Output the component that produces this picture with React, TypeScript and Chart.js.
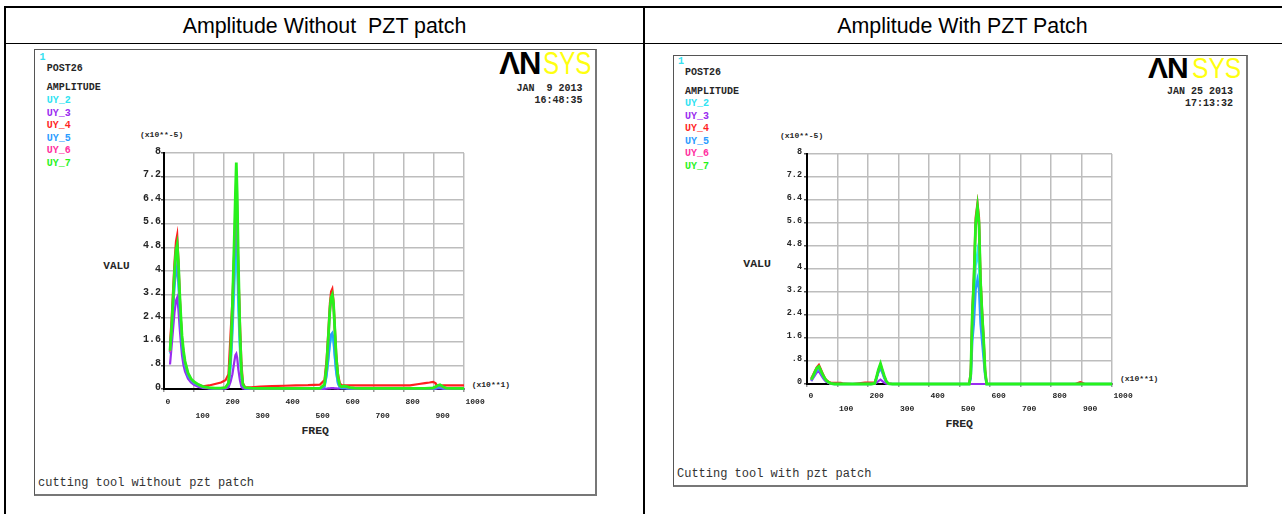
import React, { useEffect, useRef } from 'react';
import { Chart, registerables } from 'chart.js';

Chart.register(...registerables);

// ---------- data ----------
const SERIES_NAMES = ['UY_2', 'UY_3', 'UY_4', 'UY_5', 'UY_6', 'UY_7'];
const SERIES_COLORS = ['#2fe3f2', '#9a2cf0', '#ff1f1f', '#2b9cff', '#ff2f9f', '#27f21b'];
const SERIES_WIDTHS = [2.2, 2.2, 2.2, 2.4, 2.2, 2.8];
const X_TICK_LABELS = ['0', '100', '200', '300', '400', '500', '600', '700', '800', '900', '1000'];
const Y_TICK_LABELS = ['0', '.8', '1.6', '2.4', '3.2', '4', '4.8', '5.6', '6.4', '7.2', '8'];

// Left panel: without PZT patch  (FREQ x10**1, VALU x10**-5)
const LEFT_FREQ = [
  20, 25, 30, 35, 40, 44, 48, 52, 56, 60,
  65, 70, 80, 90, 100, 115, 130, 150, 170, 190,
  205, 215, 222, 228, 234, 238, 241, 244, 248, 253,
  258, 263, 270, 290, 320, 360, 400, 440, 480, 520,
  535, 542, 548, 553, 557, 561, 565, 569, 574, 580,
  586, 592, 600, 610, 620, 635, 660, 700, 760, 820,
  850, 870, 885, 897, 905, 912, 920, 930, 940, 960, 1000,
];
const LEFT_UY2 = [
  1.2, 1.85, 2.75, 3.6, 4.2, 4.4, 3.8, 2.9, 2.2, 1.55,
  1.1, 0.8, 0.45, 0.3, 0.2, 0.12, 0.06, 0.03, 0.02, 0.02,
  0.04, 0.12, 0.7, 1.8, 3.3, 4.3, 4.7, 4.1, 2.6, 1.3,
  0.4, 0.08, 0.02, 0.01, 0.01, 0.01, 0.01, 0.01, 0.01, 0.01,
  0.07, 0.45, 1.0, 1.5, 1.7, 1.75, 1.6, 1.1, 0.55, 0.18,
  0.05, 0.03, 0.04, 0.02, 0.01, 0.01, 0.01, 0.01, 0.01, 0.01,
  0.01, 0.01, 0.01, 0.01, 0.02, 0.04, 0.05, 0.02, 0.01, 0.01, 0.01,
];
const LEFT_UY3 = [
  0.83, 1.4, 2.0, 2.6, 3.0, 3.1, 2.7, 2.1, 1.6, 1.15,
  0.8, 0.6, 0.35, 0.22, 0.14, 0.07, 0.04, 0.02, 0.01, 0.01,
  0.01, 0.05, 0.25, 0.5, 0.9, 1.15, 1.2, 1.05, 0.65, 0.3,
  0.08, 0.02, 0.01, 0, 0, 0, 0, 0, 0, 0,
  0, 0.01, 0.02, 0.02, 0.03, 0.03, 0.03, 0.02, 0.02, 0.01,
  0.02, 0.03, 0.03, 0.02, 0.01, 0, 0, 0, 0, 0,
  0, 0, 0, 0, 0.01, 0.02, 0.02, 0.01, 0, 0, 0,
];
const LEFT_UY4 = [
  1.55, 2.3, 3.3, 4.3, 5.0, 5.22, 4.4, 3.3, 2.4, 1.7,
  1.2, 0.85, 0.5, 0.33, 0.22, 0.13, 0.09, 0.12, 0.17, 0.22,
  0.3, 0.5, 1.9, 3.0, 4.6, 5.6, 5.8, 5.5, 4.0, 2.3,
  0.9, 0.2, 0.06, 0.06, 0.08, 0.1, 0.11, 0.12, 0.13, 0.15,
  0.3, 1.0, 2.0, 2.9, 3.3, 3.39, 3.0, 2.2, 1.2, 0.5,
  0.2, 0.13, 0.12, 0.12, 0.12, 0.12, 0.12, 0.12, 0.12, 0.12,
  0.17, 0.2, 0.22, 0.24, 0.2, 0.08, 0.1, 0.12, 0.12, 0.12, 0.12,
];
const LEFT_UY5 = [
  1.25, 1.9, 2.7, 3.5, 4.0, 4.15, 3.6, 2.8, 2.1, 1.5,
  1.1, 0.8, 0.45, 0.3, 0.2, 0.12, 0.06, 0.03, 0.02, 0.02,
  0.04, 0.15, 0.9, 2.2, 4.0, 5.2, 5.7, 5.0, 3.2, 1.6,
  0.5, 0.1, 0.03, 0.01, 0.01, 0.01, 0.01, 0.01, 0.01, 0.01,
  0.08, 0.5, 1.1, 1.6, 1.85, 1.9, 1.7, 1.2, 0.6, 0.2,
  0.06, 0.04, 0.05, 0.03, 0.02, 0.01, 0.01, 0.01, 0.01, 0.01,
  0.01, 0.01, 0.01, 0.01, 0.03, 0.05, 0.06, 0.03, 0.01, 0.01, 0.01,
];
const LEFT_UY6 = [
  1.25, 1.95, 2.9, 3.9, 4.6, 4.8, 4.2, 3.2, 2.4, 1.75,
  1.25, 0.9, 0.52, 0.33, 0.23, 0.14, 0.07, 0.04, 0.03, 0.03,
  0.05, 0.18, 1.1, 2.6, 4.7, 6.2, 7.2, 6.2, 3.9, 1.9,
  0.55, 0.13, 0.04, 0.02, 0.02, 0.02, 0.02, 0.02, 0.02, 0.02,
  0.13, 0.75, 1.7, 2.6, 3.0, 3.1, 2.8, 2.0, 1.05, 0.38,
  0.1, 0.07, 0.08, 0.06, 0.04, 0.02, 0.02, 0.02, 0.02, 0.02,
  0.02, 0.02, 0.02, 0.03, 0.06, 0.1, 0.12, 0.06, 0.02, 0.02, 0.02,
];
const LEFT_UY7 = [
  1.3, 2.0, 3.0, 4.0, 4.7, 4.9, 4.3, 3.3, 2.5, 1.8,
  1.3, 0.95, 0.55, 0.35, 0.25, 0.15, 0.08, 0.05, 0.03, 0.03,
  0.05, 0.2, 1.2, 2.8, 5.0, 6.6, 7.68, 6.6, 4.2, 2.0,
  0.6, 0.15, 0.05, 0.03, 0.02, 0.02, 0.02, 0.02, 0.02, 0.02,
  0.15, 0.8, 1.8, 2.7, 3.1, 3.2, 2.9, 2.1, 1.1, 0.4,
  0.12, 0.08, 0.1, 0.08, 0.05, 0.03, 0.02, 0.02, 0.02, 0.02,
  0.02, 0.02, 0.03, 0.04, 0.08, 0.12, 0.14, 0.08, 0.03, 0.02, 0.02,
];

// Right panel: with PZT patch
const RIGHT_FREQ = [
  14, 20, 26, 32, 39, 44, 50, 56, 62, 70,
  78, 90, 100, 111, 120, 150, 190, 200, 210, 222,
  228, 234, 241, 247, 253, 260, 267, 280, 350, 450,
  532, 537, 542, 547, 553, 559, 564, 569, 574, 579, 584, 589,
  600, 700, 800, 880, 890, 896, 902, 910, 950, 1000,
];
const RIGHT_UY2 = [
  0.13, 0.25, 0.38, 0.5, 0.55, 0.45, 0.32, 0.21, 0.12, 0.05,
  0.01, 0, 0, 0, 0, 0, 0, 0, 0, 0.01,
  0.21, 0.42, 0.58, 0.42, 0.24, 0.08, 0.01, 0, 0, 0,
  0, 0.25, 1.8, 2.6, 4.1, 4.6, 4.1, 2.6, 1.8, 1.1, 0.35, 0,
  0, 0, 0, 0, 0, 0, 0, 0, 0, 0,
];
const RIGHT_UY3 = [
  0.1, 0.2, 0.3, 0.4, 0.44, 0.35, 0.25, 0.15, 0.08, 0.04,
  0.01, 0, 0, 0, 0, 0, 0, 0, 0, 0,
  0.05, 0.1, 0.15, 0.1, 0.05, 0.01, 0, 0, 0, 0,
  0, 0, 0, 0, 0, 0, 0, 0, 0, 0, 0, 0,
  0, 0, 0, 0, 0, 0, 0, 0, 0, 0,
];
const RIGHT_UY4 = [
  0.2, 0.32, 0.45, 0.58, 0.67, 0.55, 0.4, 0.26, 0.15, 0.08,
  0.04, 0.04, 0.04, 0.04, 0.01, 0, 0.05, 0.05, 0.05, 0.05,
  0.22, 0.45, 0.66, 0.45, 0.25, 0.08, 0.01, 0, 0, 0,
  0, 0.45, 2.6, 3.7, 5.8, 6.3, 5.8, 3.7, 2.6, 1.65, 0.5, 0,
  0, 0, 0, 0, 0.04, 0.06, 0.04, 0, 0, 0,
];
const RIGHT_UY5 = [
  0.12, 0.24, 0.36, 0.47, 0.52, 0.43, 0.3, 0.2, 0.11, 0.05,
  0.01, 0, 0, 0, 0, 0, 0, 0, 0, 0.01,
  0.2, 0.4, 0.55, 0.4, 0.22, 0.07, 0.01, 0, 0, 0,
  0, 0.2, 1.5, 2.1, 3.3, 3.63, 3.3, 2.1, 1.5, 0.9, 0.3, 0,
  0, 0, 0, 0, 0, 0, 0, 0, 0, 0,
];
const RIGHT_UY6 = [
  0.14, 0.27, 0.4, 0.53, 0.59, 0.48, 0.35, 0.23, 0.13, 0.06,
  0.01, 0, 0, 0, 0, 0, 0, 0, 0, 0.01,
  0.24, 0.48, 0.69, 0.48, 0.28, 0.09, 0.01, 0, 0, 0,
  0, 0.33, 2.35, 3.45, 5.45, 6.0, 5.45, 3.45, 2.35, 1.5, 0.43, 0,
  0, 0, 0, 0, 0, 0, 0, 0, 0, 0,
];
const RIGHT_UY7 = [
  0.15, 0.28, 0.42, 0.55, 0.61, 0.5, 0.36, 0.24, 0.14, 0.07,
  0.02, 0, 0, 0, 0, 0, 0, 0, 0, 0.02,
  0.25, 0.5, 0.71, 0.5, 0.3, 0.1, 0.01, 0, 0, 0,
  0, 0.35, 2.45, 3.55, 5.6, 6.16, 5.6, 3.55, 2.45, 1.55, 0.45, 0,
  0, 0, 0, 0, 0, 0, 0, 0, 0, 0,
];

const LEFT_SERIES = [LEFT_UY2, LEFT_UY3, LEFT_UY4, LEFT_UY5, LEFT_UY6, LEFT_UY7];
const RIGHT_SERIES = [RIGHT_UY2, RIGHT_UY3, RIGHT_UY4, RIGHT_UY5, RIGHT_UY6, RIGHT_UY7];

// ---------- helpers ----------
const MONO = '"Liberation Mono", "Courier New", monospace';
const SANS = '"Liberation Sans", Arial, sans-serif';
const INK = '#262626';

type ChartLayout = {
  x: number; y: number; w: number; h: number;
  yWidth: number; xHeight: number; padRight: number; padTop: number;
  yFont: number; yPad: number; xFont: number; xLine: number; xPad: number;
};

function AmpChart({ freq, series, L }: { freq: number[]; series: number[][]; L: ChartLayout }) {
  const ref = useRef<HTMLCanvasElement>(null);
  useEffect(() => {
    const chart = new Chart(ref.current as HTMLCanvasElement, {
      type: 'line',
      data: {
        datasets: series.map((vals, i) => ({
          label: SERIES_NAMES[i],
          data: freq.map((f, j) => ({ x: f, y: vals[j] })),
          borderColor: SERIES_COLORS[i],
          backgroundColor: SERIES_COLORS[i],
          borderWidth: SERIES_WIDTHS[i],
          pointRadius: 0,
          tension: 0,
          fill: false,
          clip: 3,
          order: series.length - i,
        })),
      },
      options: {
        animation: false,
        responsive: false,
        maintainAspectRatio: false,
        events: [],
        layout: { padding: { left: 0, right: L.padRight, top: L.padTop, bottom: 0 } },
        plugins: { legend: { display: false }, tooltip: { enabled: false } },
        scales: {
          x: {
            type: 'linear',
            min: 0,
            max: 1000,
            afterFit: (s: any) => { s.height = L.xHeight; },
            ticks: {
              stepSize: 100,
              autoSkip: false,
              maxRotation: 0,
              minRotation: 0,
              align: 'start',
              labelOffset: 1.5,
              padding: L.xPad,
              color: INK,
              font: { family: MONO, size: L.xFont, weight: 'bold', lineHeight: L.xLine + 'px' },
              callback: (_v: any, i: number) => (i % 2 === 0 ? [X_TICK_LABELS[i], ''] : ['', X_TICK_LABELS[i]]),
            },
            grid: { color: '#bdbdbd', lineWidth: 1.5, tickLength: 3, tickColor: '#9a9a9a' },
            border: { color: '#000', width: 2 },
          },
          y: {
            type: 'linear',
            min: 0,
            max: 8,
            afterFit: (s: any) => { s.width = L.yWidth; },
            ticks: {
              stepSize: 0.8,
              autoSkip: false,
              padding: L.yPad,
              labelOffset: -2,
              color: INK,
              font: { family: MONO, size: L.yFont, weight: 'bold' },
              callback: (_v: any, i: number) => Y_TICK_LABELS[i],
            },
            grid: { color: '#bdbdbd', lineWidth: 1.5, tickLength: 3, tickColor: '#555' },
            border: { color: '#000', width: 2 },
          },
        },
      },
    } as any);
    return () => chart.destroy();
  }, []);
  return (
    <canvas
      ref={ref}
      width={L.w}
      height={L.h}
      style={{ position: 'absolute', left: L.x, top: L.y, width: L.w, height: L.h }}
    />
  );
}

// text at left x with visual (cap) centre y
function T({ x, y, s, children, w = 'bold', c = INK, f = MONO }: any) {
  return (
    <div style={{ position: 'absolute', left: x, top: y - s * 0.48, fontFamily: f, fontSize: s, fontWeight: w, color: c, lineHeight: s + 'px', whiteSpace: 'pre' }}>
      {children}
    </div>
  );
}
// right-aligned text ending at x
function TR({ x, y, s, children, w = 'bold', c = INK }: any) {
  return (
    <div style={{ position: 'absolute', left: x - 200, width: 200, textAlign: 'right', top: y - s * 0.48, fontFamily: MONO, fontSize: s, fontWeight: w, color: c, lineHeight: s + 'px', whiteSpace: 'pre' }}>
      {children}
    </div>
  );
}
// centred text
function TC({ x, y, s, children, w = 'bold', c = INK }: any) {
  return (
    <div style={{ position: 'absolute', left: x - 100, width: 200, textAlign: 'center', top: y - s * 0.48, fontFamily: MONO, fontSize: s, fontWeight: w, color: c, lineHeight: s + 'px', whiteSpace: 'pre' }}>
      {children}
    </div>
  );
}

function Logo({ x, y, size, anW, sysW }: any) {
  return (
    <>
      <div style={{ position: 'absolute', left: x, top: y, fontFamily: SANS, fontWeight: 'bold', fontSize: size, lineHeight: size + 'px', color: '#000', whiteSpace: 'pre', letterSpacing: -1 }}>ΛN</div>
      <div style={{ position: 'absolute', left: x + anW, top: y, fontFamily: SANS, fontSize: size, lineHeight: size + 'px', color: '#ffff10', whiteSpace: 'pre', transform: `scaleX(${sysW})`, transformOrigin: 'left top' }}>SYS</div>
    </>
  );
}

function Box({ l, t, w, h, bg }: any) {
  return <div style={{ position: 'absolute', left: l, top: t, width: w, height: h, background: bg }} />;
}

const LEFT_LAYOUT: ChartLayout = { x: 100, y: 120, w: 440, h: 330, yWidth: 64, xHeight: 61, padRight: 76, padTop: 33, yFont: 10, yPad: 0, xFont: 8, xLine: 14.3, xPad: 2.5 };
const RIGHT_LAYOUT: ChartLayout = { x: 740, y: 120, w: 440, h: 320, yWidth: 67, xHeight: 56, padRight: 68, padTop: 34, yFont: 8.5, yPad: 2, xFont: 8, xLine: 12.5, xPad: 3 };

function Panel({ side }: { side: 'left' | 'right' }) {
  const isL = side === 'left';
  const lx = isL ? 46.7 : 685;
  const y0 = isL ? 101 : 104.2;
  return (
    <>
      <T x={isL ? 39.5 : 678} y={isL ? 57.5 : 62} s={10} c="#35dff0">1</T>
      <T x={lx} y={isL ? 68.7 : 73} s={10}>POST26</T>
      <T x={lx} y={isL ? 87.7 : 91.7} s={10}>AMPLITUDE</T>
      {SERIES_NAMES.map((n, i) => (
        <T key={n} x={lx} y={y0 + i * 12.5} s={10} c={SERIES_COLORS[i]}>{n}</T>
      ))}
      <TR x={isL ? 582.5 : 1233} y={isL ? 88.3 : 91.7} s={10}>{isL ? 'JAN  9 2013' : 'JAN 25 2013'}</TR>
      <TR x={isL ? 582.5 : 1233} y={isL ? 100.3 : 103.3} s={10}>{isL ? '16:48:35' : '17:13:32'}</TR>
      <T x={isL ? 140 : 780} y={isL ? 134.7 : 136.3} s={8}>(x10**-5)</T>
      <T x={isL ? 103.3 : 743.3} y={isL ? 266 : 263.3} s={isL ? 11 : 11.5}>VALU</T>
      <T x={isL ? 471.7 : 1120} y={isL ? 385 : 379} s={8}>(x10**1)</T>
      <TC x={isL ? 315.2 : 959.2} y={isL ? 431 : 424} s={11.5}>FREQ</TC>
      <T x={isL ? 38 : 677} y={isL ? 483 : 474} s={12} w="normal" c="#333">
        {isL ? 'cutting tool without pzt patch' : 'Cutting tool with pzt patch'}
      </T>
    </>
  );
}

export default function App() {
  return (
    <div style={{ position: 'absolute', left: 0, top: 0, width: 1282, height: 514, background: '#fff', overflow: 'hidden' }}>
      {/* table lines */}
      <Box l={4} t={6} w={1278} h={2} bg="#000" />
      <Box l={4} t={6} w={2} h={508} bg="#000" />
      <Box l={4} t={42.5} w={1278} h={1.5} bg="#000" />
      <Box l={642.5} t={6} w={2} h={508} bg="#000" />
      {/* headers */}
      <div style={{ position: 'absolute', left: 6, width: 637, top: 13.5, textAlign: 'center', fontFamily: SANS, fontSize: 21.4, lineHeight: '25px', color: '#000', whiteSpace: 'pre' }}>Amplitude Without  PZT patch</div>
      <div style={{ position: 'absolute', left: 644, width: 637, top: 13.5, textAlign: 'center', fontFamily: SANS, fontSize: 21.4, lineHeight: '25px', color: '#000', whiteSpace: 'pre' }}>Amplitude With PZT Patch</div>
      {/* plot frames */}
      <div style={{ position: 'absolute', left: 34, top: 49, width: 560, height: 444, border: '1px solid #555', borderRightWidth: 2, borderBottomWidth: 2, borderRightColor: '#777', borderBottomColor: '#777' }} />
      <div style={{ position: 'absolute', left: 672.5, top: 54.5, width: 572, height: 429, border: '1px solid #555', borderRightWidth: 2, borderBottomWidth: 2, borderRightColor: '#777', borderBottomColor: '#777' }} />
      {/* logos */}
      <Logo x={499.3} y={47.7} size={31} anW={43.7} sysW={0.78} />
      <Logo x={1148} y={52.5} size={30} anW={43.7} sysW={0.82} />
      <Panel side="left" />
      <Panel side="right" />
      <AmpChart freq={LEFT_FREQ} series={LEFT_SERIES} L={LEFT_LAYOUT} />
      <AmpChart freq={RIGHT_FREQ} series={RIGHT_SERIES} L={RIGHT_LAYOUT} />
    </div>
  );
}
